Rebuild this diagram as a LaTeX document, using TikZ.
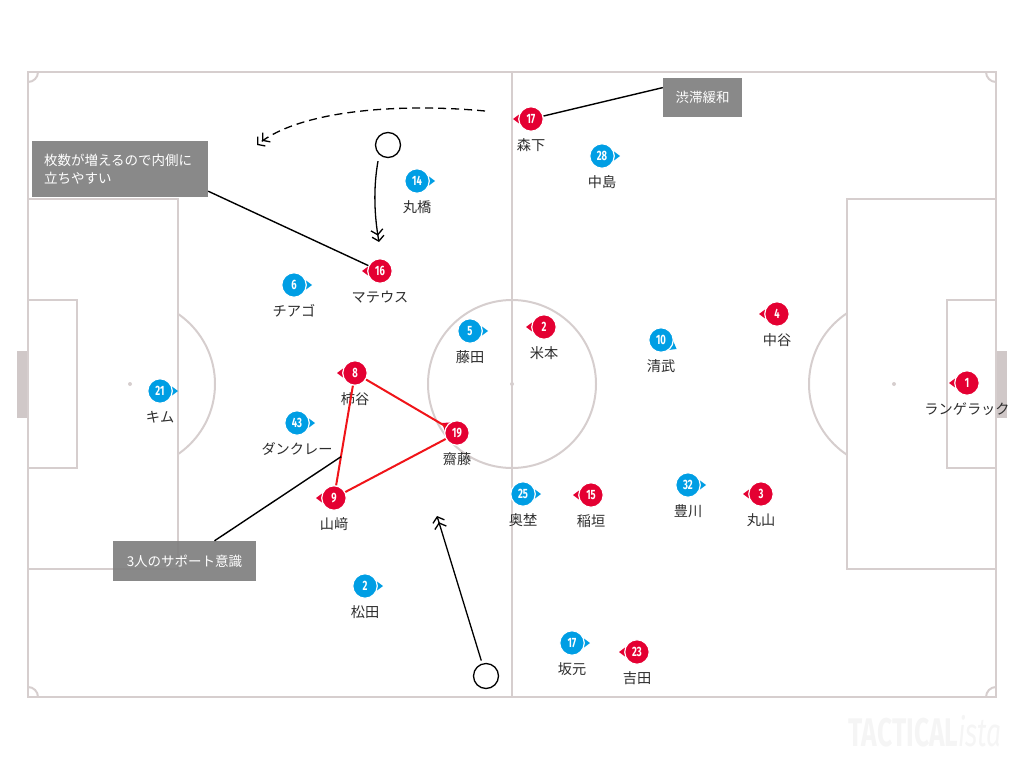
\documentclass[tikz,border=0pt]{standalone}
\usepackage{fontspec}
\setmainfont{Noto Sans CJK JP}
\newfontfamily\numfont{Fira Sans}[FakeStretch=0.7]
\newfontfamily\markfont{Fira Sans}[FakeStretch=0.66]
\usetikzlibrary{arrows.meta,calc}
\definecolor{pitchline}{RGB}{214,206,206}
\definecolor{goalgray}{RGB}{208,200,200}
\definecolor{redteam}{RGB}{228,0,50}
\definecolor{blueteam}{RGB}{0,158,228}
\definecolor{triline}{RGB}{240,20,25}
\definecolor{boxgray}{RGB}{128,128,128}
\definecolor{labeltext}{RGB}{45,45,45}
\definecolor{markgray}{RGB}{245,245,245}
\begin{document}
\begin{tikzpicture}[x=1pt,y=-1pt,
  pitch/.style={draw=pitchline,line width=2pt},
  redp/.style={circle,fill=redteam,draw=white,line width=1.2pt,minimum size=24.5pt,inner sep=0pt,text=white,font=\numfont\bfseries\fontsize{13.5}{13.5}\selectfont},
  bluep/.style={redp,fill=blueteam},
  plabel/.style={anchor=base,inner sep=0pt,text=labeltext,font=\fontsize{14.2}{14.2}\selectfont},
  notebox/.style={fill=boxgray,fill opacity=0.93,text opacity=1,text=white,inner xsep=12pt,font=\fontsize{13.5}{18}\selectfont},
  note/.style={draw=black,line width=1.4pt},
  chev/.style={line width=1.3pt,-{Straight Barb[length=5pt,width=12pt]Straight Barb[length=5pt,width=12pt]}},
  ball/.style={circle,draw=black,line width=1.3pt,fill=white,minimum size=25pt,inner sep=0pt}]
\useasboundingbox (0,0) rectangle (1024,768);
% pitch
\fill[goalgray] (17,351) rectangle (28,418);
\fill[goalgray] (996,351) rectangle (1007,418);
\draw[pitch] (28,72) rectangle (996,697);
\draw[pitch] (512,72) -- (512,697);
\draw[pitch] (512,384) circle [radius=84];
\fill[pitchline] (512,384) circle [radius=2];
\draw[pitch] (28,199) rectangle (178,569);
\draw[pitch] (28,300) rectangle (77,468);
\fill[pitchline] (130,384) circle [radius=2];
\draw[pitch] (996,199) rectangle (847,569);
\draw[pitch] (996,300) rectangle (947,468);
\fill[pitchline] (894,384) circle [radius=2];
\begin{scope}
\clip (179,250) rectangle (260,520);
\draw[pitch] (130,384) circle [radius=85];
\end{scope}
\begin{scope}
\clip (764,250) rectangle (846,520);
\draw[pitch] (894,384) circle [radius=85];
\end{scope}
\draw[pitch] (38,72) arc [start angle=0,end angle=90,radius=10];
\draw[pitch] (986,72) arc [start angle=180,end angle=90,radius=10];
\draw[pitch] (38,697) arc [start angle=0,end angle=-90,radius=10];
\draw[pitch] (986,697) arc [start angle=180,end angle=270,radius=10];
% players
\foreach \n/\x/\y/\num/\lab/\a in {morishita/531/119/17/森下/180,mateus/380/271/16/マテウス/180,
  yonemoto/544/327/2/米本/180,nakatani/777/314/4/中谷/180,langerak/967/383/1/ランゲラック/180,
  kakitani/355/373/8/柿谷/180,saito/457/433/19/齋藤/146,yamasaki/334/498/9/山﨑/180,
  inagaki/591/495/15/稲垣/180,maruyama/761/494/3/丸山/180,yoshida/637/652/23/吉田/180}{
  \fill[redteam,rotate around={\a:(\x,\y)}] (\x+18,\y) -- (\x+10,\y-6) -- (\x+10,\y+6) -- cycle;
  \node[redp] (\n) at (\x,\y) {\num};
  \node[plabel] at (\x,\y+31) {\lab};
}
\foreach \n/\x/\y/\num/\lab/\a in {maruhashi/417/181/14/丸橋/0,nakajima/602/156/28/中島/0,
  tiago/294/285/6/チアゴ/0,fujita/470/331/5/藤田/0,kiyotake/661/340/10/清武/-30,
  kim/160/391/21/キム/0,dankler/297/423/43/ダンクレー/0,okugono/523/494/25/奥埜/0,
  toyokawa/688/485/32/豊川/0,matsuda/365/586/2/松田/0,sakamoto/572/643/17/坂元/0}{
  \fill[blueteam,rotate around={\a:(\x,\y)}] (\x+18,\y) -- (\x+10,\y-6) -- (\x+10,\y+6) -- cycle;
  \node[bluep] (\n) at (\x,\y) {\num};
  \node[plabel] at (\x,\y+31) {\lab};
}
\draw[triline,line width=2pt] (kakitani) -- (saito) -- (yamasaki) -- (kakitani);
% balls and runs
\node[ball] (ballA) at (388,145) {};
\node[ball] (ballB) at (486,676) {};
\coordinate (runA) at (379,242);
\coordinate (runB) at (437,516);
\coordinate (sweepA) at (485,111);
\coordinate (sweepB) at (257,145);
\draw[chev] ([xshift=-10pt,yshift=-3pt]ballA.south) .. controls (372,195) and (376,225) .. (runA);
\draw[chev,shorten <=3pt] (ballB) -- (runB);
\draw[chev,dash pattern=on 8pt off 5pt] (sweepA) .. controls (400,103) and (300,110) .. (sweepB);
% notes
\node[notebox,text width=152pt,minimum height=56pt,align=left] (noteA) at (120,169) {枚数が増えるので内側に\\立ちやすい};
\node[notebox,minimum width=79pt,minimum height=39pt] (noteB) at (702.5,97.5) {渋滞緩和};
\node[notebox,minimum width=143pt,minimum height=40pt] (noteC) at (184.5,561) {3人のサポート意識};
\coordinate (tri) at ($(yamasaki)!0.33!(kakitani)$);
\draw[note] ([yshift=6pt]noteA.south east) -- (mateus);
\draw[note] (noteB.166) -- (morishita);
\draw[note] ([xshift=30pt]noteC.north) -- (tri);
\node[anchor=base east,inner sep=0pt,text=markgray,font=\markfont\bfseries\fontsize{40}{40}\selectfont] (mark) at (1002,746) {TACTICAL{\mdseries\itshape ista}};
\end{tikzpicture}
\end{document}
